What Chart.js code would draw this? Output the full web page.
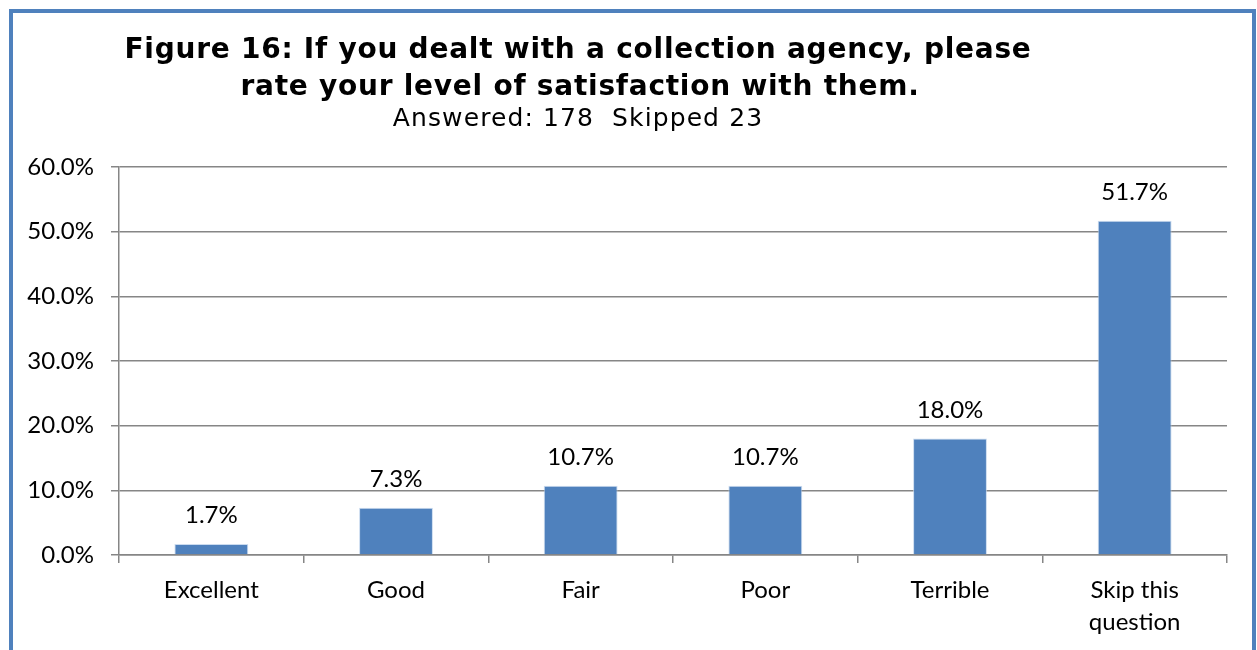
<!DOCTYPE html>
<html>
<head>
<meta charset="utf-8">
<script src="https://cdn.jsdelivr.net/npm/chart.js@4.4.1/dist/chart.umd.min.js"></script>
<style>
  html, body { margin: 0; padding: 0; background: #fff; }
  body { width: 1257px; height: 650px; position: relative; overflow: hidden; }
  #frame {
    position: absolute; left: 9px; top: 9px; width: 1239px; height: 700px;
    border: 4px solid #4F81BD; box-sizing: content-box; pointer-events: none;
  }
  #wrap { position: absolute; left: 0; top: 0; width: 1257px; height: 650px; }
</style>
</head>
<body>
<div id="wrap"><canvas id="chart" width="1257" height="650"></canvas></div>
<div id="frame"></div>
<script>
// Survey responses, percent of respondents
const categories = ['Excellent', 'Good', 'Fair', 'Poor', 'Terrible', ['Skip this', 'question']];
const shares = [1.7, 7.3, 10.7, 10.7, 18.0, 51.7];
const titleLines = [
  'Figure 16: If you dealt with a collection agency, please',
  'rate your level of satisfaction with them.'
];
const subtitleText = 'Answered: 178  Skipped 23';

const BAR_BLUE = '#4F81BD';
const GRID_GREY = '#868686';
const LABEL_FONT = 'Lato, "Open Sans", sans-serif';

// Heading block, centred over the figure
const headingPlugin = {
  id: 'heading',
  afterDraw(chart) {
    const ctx = chart.ctx;
    ctx.save();
    ctx.fillStyle = '#000';
    ctx.textAlign = 'center';
    ctx.textBaseline = 'alphabetic';
    ctx.letterSpacing = '0.75px';
    ctx.font = 'bold 28px "DejaVu Sans", Verdana, sans-serif';
    ctx.fillText(titleLines[0], 578, 58);
    ctx.fillText(titleLines[1], 580, 95);
    ctx.letterSpacing = '1.1px';
    ctx.font = '25px "DejaVu Sans", Verdana, sans-serif';
    ctx.fillText(subtitleText, 578, 126);
    ctx.restore();
  }
};

// Value labels above each bar
const valueLabels = {
  id: 'valueLabels',
  afterDatasetsDraw(chart) {
    const ctx = chart.ctx;
    const meta = chart.getDatasetMeta(0);
    const data = chart.data.datasets[0].data;
    ctx.save();
    ctx.fillStyle = '#000';
    ctx.font = '24px ' + LABEL_FONT;
    ctx.textAlign = 'center';
    ctx.textBaseline = 'alphabetic';
    meta.data.forEach((bar, i) => {
      ctx.fillText(data[i].toFixed(1) + '%', bar.x, bar.y - 21);
    });
    ctx.restore();
  }
};

new Chart(document.getElementById('chart'), {
  type: 'bar',
  data: {
    labels: categories,
    datasets: [{
      data: shares,
      backgroundColor: BAR_BLUE,
      borderColor: 'rgba(190,210,235,0.8)',
      borderWidth: 1,
      barPercentage: 0.4,
      categoryPercentage: 1.0
    }]
  },
  options: {
    responsive: false,
    animation: false,
    layout: { padding: { top: 167, right: 30, bottom: 0, left: 0 } },
    plugins: {
      legend: { display: false },
      title: { display: false },
      tooltip: { enabled: false }
    },
    scales: {
      x: {
        offset: true,
        grid: {
          offset: true,
          drawOnChartArea: false,
          drawTicks: true,
          tickLength: 8,
          color: GRID_GREY,
          lineWidth: 1.5
        },
        border: { display: true, color: GRID_GREY, width: 1.5 },
        ticks: {
          color: '#000',
          font: { family: LABEL_FONT, size: 24, lineHeight: 1.35 },
          padding: 11,
          maxRotation: 0,
          autoSkip: false
        },
        afterFit(scale) { scale.height = 95; }
      },
      y: {
        min: 0,
        max: 60,
        ticks: {
          stepSize: 10,
          color: '#000',
          font: { family: LABEL_FONT, size: 24 },
          padding: 17,
          callback: v => v.toFixed(1) + '%'
        },
        grid: {
          color: GRID_GREY,
          lineWidth: 1.5,
          tickLength: 8,
          drawTicks: true
        },
        border: { display: true, color: GRID_GREY, width: 1.5 },
        afterFit(scale) { scale.width = 119; }
      }
    }
  },
  plugins: [headingPlugin, valueLabels]
});
</script>
</body>
</html>
